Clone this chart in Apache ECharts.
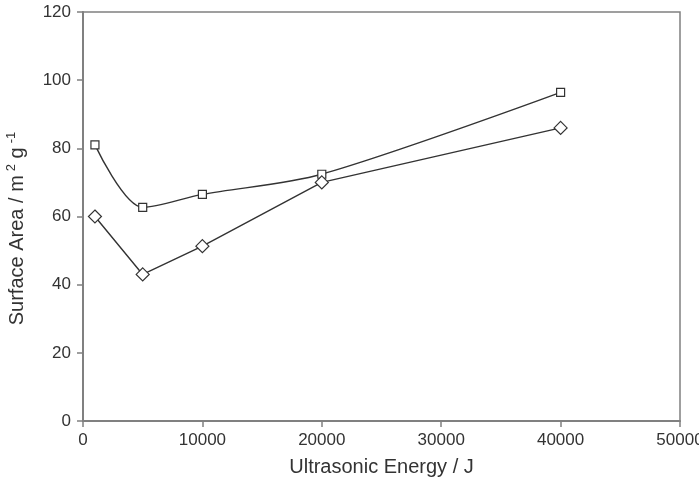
<!DOCTYPE html>
<html>
<head>
<meta charset="utf-8">
<script src="https://cdn.jsdelivr.net/npm/echarts@6/dist/echarts.min.js"></script>
<style>
  html, body { margin: 0; padding: 0; background: #fff; }
  #chart { width: 699px; height: 482px; }
</style>
</head>
<body>
<div id="chart"></div>
<script>
// ultrasonic energy (J)
var energy = [1000, 5000, 10000, 20000, 40000];
// surface area, square markers (upper curve)
var areaSquares = [81, 62.7, 66.5, 72.4, 96.4];
// surface area, diamond markers (lower curve)
var areaDiamonds = [60, 43, 51.3, 70, 86];

function pairs(xs, ys) {
    var out = [];
    for (var i = 0; i < xs.length; i++) out.push([xs[i], ys[i]]);
    return out;
}

var myChart = echarts.init(document.getElementById("chart"));

var font = "Liberation Sans";

myChart.setOption({
    animation: false,
    grid: {
        left: 83, right: 19, top: 12, bottom: 61,
        outerBoundsMode: "none",
        show: true, borderColor: "#808080", borderWidth: 1.5
    },
    xAxis: {
        type: "value",
        min: 0, max: 50000, interval: 10000,
        name: "Ultrasonic Energy / J",
        nameLocation: "middle",
        nameGap: 36,
        nameTextStyle: { fontFamily: font, fontSize: 20, color: "#333" },
        axisLine: { lineStyle: { color: "#808080", width: 2 } },
        axisTick: { show: true, length: 6, lineStyle: { color: "#808080", width: 1.5 } },
        axisLabel: {
            fontFamily: font, fontSize: 17, color: "#333", margin: 11,
            formatter: function (v) { return String(v); }
        },
        splitLine: { show: false }
    },
    yAxis: {
        type: "value",
        min: 0, max: 120, interval: 20,
        name: "Surface Area / m{sup|2} g{sup|-1}",
        nameLocation: "middle",
        nameGap: 54,
        nameTextStyle: {
            fontFamily: font, fontSize: 20, color: "#333", lineHeight: 24,
            padding: [0, 24, 0, 0],
            rich: {
                sup: { fontFamily: font, fontSize: 13, color: "#333", verticalAlign: "top", lineHeight: 24, padding: [0, 0, 10, 4] }
            }
        },
        axisLine: { show: true, lineStyle: { color: "#808080", width: 2 } },
        axisTick: { show: true, length: 6, lineStyle: { color: "#808080", width: 1.5 } },
        axisLabel: { fontFamily: font, fontSize: 17, color: "#333", margin: 12 },
        splitLine: { show: false }
    },
    series: [
        {
            type: "line",
            data: pairs(energy, areaSquares),
            smooth: 0.3,
            symbol: "rect",
            symbolSize: 8,
            lineStyle: { color: "#333", width: 1.4 },
            itemStyle: { color: "#fff", borderColor: "#333", borderWidth: 1.2 }
        },
        {
            type: "line",
            data: pairs(energy, areaDiamonds),
            smooth: false,
            symbol: "diamond",
            symbolSize: [13, 13],
            lineStyle: { color: "#333", width: 1.4 },
            itemStyle: { color: "#fff", borderColor: "#333", borderWidth: 1.2 }
        }
    ]
});
</script>
</body>
</html>
